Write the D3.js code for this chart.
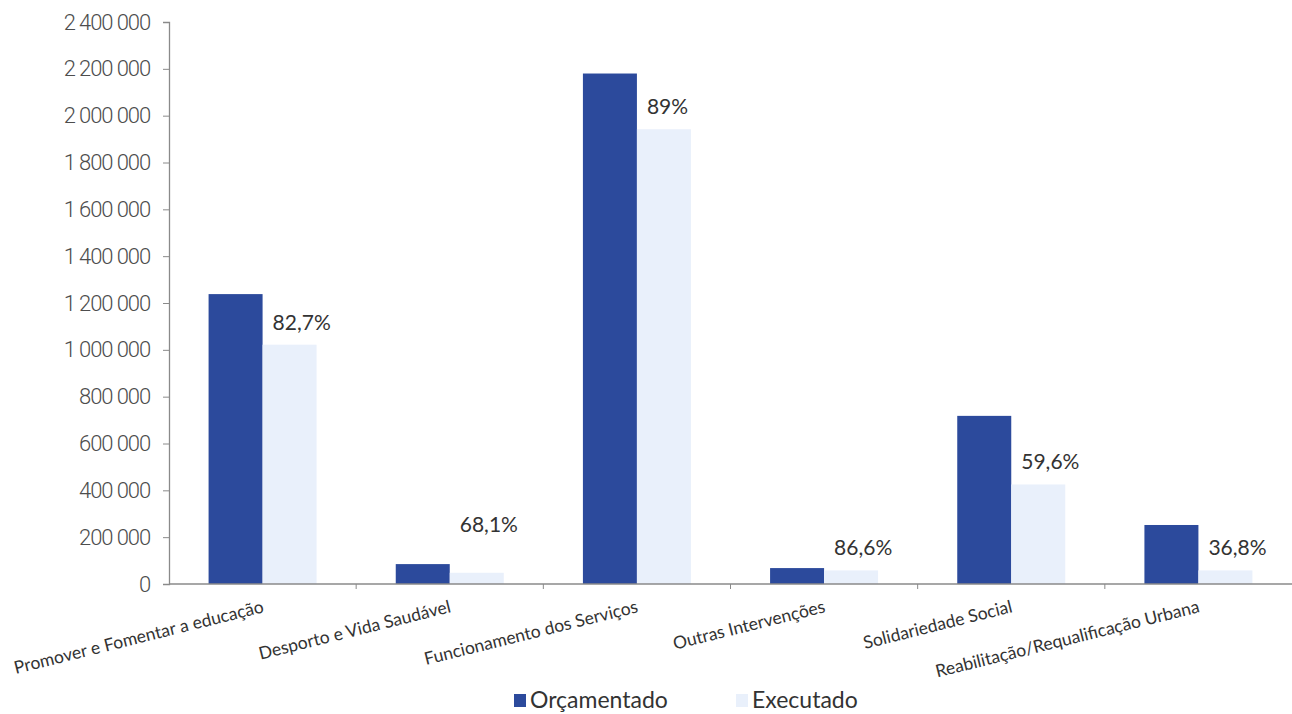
<!DOCTYPE html>
<html>
<head>
<meta charset="utf-8">
<script src="https://cdn.jsdelivr.net/npm/d3@7"></script>
<style>
  html, body { margin: 0; padding: 0; background: #fff; }
  svg { display: block; }
</style>
</head>
<body>
<svg id="chart"></svg>
<script>
// --- DATOS ---
const categorias = [
  "Promover e Fomentar a educação",
  "Desporto e Vida Saudável",
  "Funcionamento dos Serviços",
  "Outras Intervenções",
  "Solidariedade Social",
  "Reabilitação/Requalificação Urbana"
];
const series = ["Orçamentado", "Executado"];
const orcamentado = [1238000, 85000, 2180000, 68000, 718000, 252000];
const executado = [1022000, 48000, 1942000, 58000, 425000, 58000];
const percentagens = ["82,7%", "68,1%", "89%", "86,6%", "59,6%", "36,8%"];
const yTicks = [0, 200000, 400000, 600000, 800000, 1000000, 1200000, 1400000,
  1600000, 1800000, 2000000, 2200000, 2400000];

const cores = { "Orçamentado": "#2c4a9c", "Executado": "#e9f0fb" };

const width = 1292, height = 714;
const svg = d3.select("#chart").attr("width", width).attr("height", height);

const mLeft = 169, mRight = 1292, mTop = 22, mBottom = 584;

const ptLocale = d3.formatLocale({ decimal: ",", thousands: " ", grouping: [3], currency: ["", ""] });
const fmt = ptLocale.format(",d");

const x0 = d3.scaleBand().domain(categorias).range([mLeft, mRight]).padding(0);
const grupo = 108;
const x1 = d3.scaleBand().domain(series)
  .range([(x0.bandwidth() - grupo) / 2, (x0.bandwidth() + grupo) / 2]);
const y = d3.scaleLinear().domain([0, 2400000]).range([mBottom, mTop]);

// --- EJE Y ---
const yAxis = svg.append("g")
  .attr("transform", `translate(${mLeft},0)`)
  .call(d3.axisLeft(y).tickValues(yTicks).tickFormat(fmt).tickSize(6).tickPadding(13));
yAxis.select(".domain").attr("stroke", "#8a8a8a").attr("stroke-width", 1.3);
yAxis.selectAll(".tick line").attr("stroke", "#8a8a8a");
yAxis.selectAll("text")
  .attr("fill", "#4d4d4d")
  .style("font-family", "Roboto, 'Noto Sans', sans-serif")
  .style("font-weight", "300")
  .style("font-size", "22px")
  .style("letter-spacing", "-1.1px");

// --- BARRAS ---
const datos = categorias.map((c, i) => ({
  cat: c,
  valores: [
    { serie: "Orçamentado", v: orcamentado[i] },
    { serie: "Executado", v: executado[i] }
  ],
  pct: percentagens[i],
  exec: executado[i]
}));

const g = svg.append("g")
  .selectAll("g")
  .data(datos)
  .enter().append("g")
  .attr("transform", d => `translate(${x0(d.cat)},0)`);

g.selectAll("rect")
  .data(d => d.valores)
  .enter().append("rect")
  .attr("x", d => x1(d.serie))
  .attr("y", d => y(d.v))
  .attr("width", x1.bandwidth())
  .attr("height", d => y(0) - y(d.v))
  .attr("fill", d => cores[d.serie]);

// --- EJE X ---
svg.append("line")
  .attr("x1", mLeft).attr("x2", mRight)
  .attr("y1", mBottom).attr("y2", mBottom)
  .attr("stroke", "#8a8a8a").attr("stroke-width", 1.3);

svg.append("g")
  .selectAll("line")
  .data(categorias.slice(1))
  .enter().append("line")
  .attr("x1", d => x0(d)).attr("x2", d => x0(d))
  .attr("y1", mBottom).attr("y2", mBottom + 5)
  .attr("stroke", "#8a8a8a");

svg.append("g")
  .selectAll("text")
  .data(categorias)
  .enter().append("text")
  .attr("transform", d => `translate(${x0(d) + x0.bandwidth() / 2 + 2},${mBottom + 28}) rotate(-14)`)
  .attr("text-anchor", "end")
  .attr("fill", "#333")
  .style("font-family", "Lato, 'Open Sans', sans-serif")
  .style("font-size", "17.5px")
  .text(d => d);

// --- ETIQUETAS DE PORCENTAJE ---
const extraDy = [0, 26, 0, 0, 0, 0];
svg.append("g")
  .selectAll("text")
  .data(datos)
  .enter().append("text")
  .attr("x", d => x0(d.cat) + x1("Executado") + 10)
  .attr("y", (d, i) => y(d.exec) - 15 - extraDy[i])
  .attr("fill", "#333")
  .style("font-family", "Lato, 'Open Sans', sans-serif")
  .style("font-size", "21px")
  .text(d => d.pct);

// --- LEYENDA ---
const legendX = [514, 736];
const leg = svg.append("g")
  .selectAll("g")
  .data(series)
  .enter().append("g")
  .attr("transform", (d, i) => `translate(${legendX[i]},694)`);
leg.append("rect")
  .attr("width", 12).attr("height", 13)
  .attr("fill", d => cores[d]);
leg.append("text")
  .attr("x", 16).attr("y", 14)
  .attr("fill", "#333")
  .style("font-family", "Lato, 'Open Sans', sans-serif")
  .style("font-size", "23px")
  .text(d => d);
</script>
</body>
</html>
